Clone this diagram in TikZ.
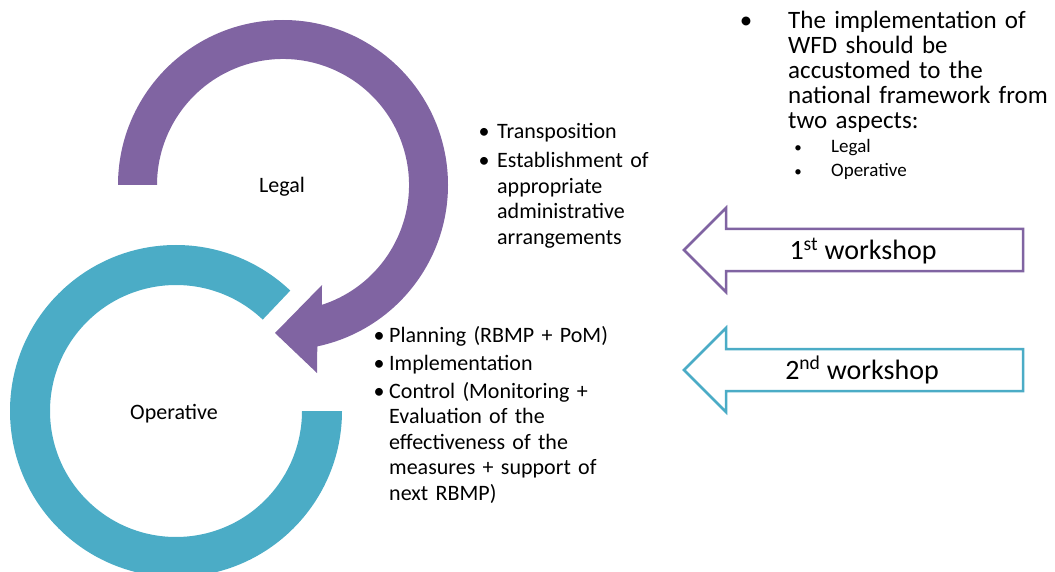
\documentclass[tikz,border=0pt]{standalone}
\usepackage{fontspec}
\setmainfont{Carlito}
\usepackage{tikz}
\definecolor{legalc}{HTML}{8064A2}
\definecolor{operc}{HTML}{4BACC6}

\begin{document}
\begin{tikzpicture}[x=1pt, y=-1pt,
    txt/.style = {anchor=base west, align=left, inner sep=0pt, text width=240pt, font=\fontsize{22}{25.5}\selectfont},
    bul/.style = {anchor=base, inner sep=0pt, font=\fontsize{22}{25.5}\selectfont},
    ring/.style = {anchor=base, inner sep=0pt, font=\fontsize{22}{25}\selectfont},
    ws/.style = {anchor=base, inner sep=0pt, font=\fontsize{28}{30}\selectfont},
    wsarrow/.style = {draw=#1, line width=2.5pt, fill=white, line join=miter}]

    \useasboundingbox (0,0) rectangle (1055,572);

    % Legal ring, ends in the arrow head
    \begin{scope}[shift={(283,185)}]
        \fill[legalc] (180:165) arc[start angle=180, end angle=438, radius=165]
            -- (34,188) -- (-8,148) -- (39,100)
            -- (72:126) arc[start angle=432, end angle=180, radius=126] -- cycle;
        \node[ring] (legal) at (-1,8) {Legal};
    \end{scope}

    % Operative ring
    \begin{scope}[shift={(176,411)}]
        \fill[operc] (0:166) arc[start angle=0, end angle=313.5, radius=166]
            -- (313.5:126) arc[start angle=313.5, end angle=0, radius=126] -- cycle;
        \node[ring] (oper) at (-2,8) {Operative};
    \end{scope}

    % Legal items
    \node[bul] (lb1) at (484,139) {\textbullet};
    \node[txt] (lt1) at (497,139) {Transposition};
    \node[bul] (lb2) at (484,168) {\textbullet};
    \node[txt] (lt2) at (497,168) {Establishment of\\appropriate\\administrative\\arrangements};

    % Operative items
    \node[bul] (ob1) at (379,342) {\textbullet};
    \node[txt] (ot1) at (389,342) {Planning (RBMP + PoM)};
    \node[bul] (ob2) at (379,370) {\textbullet};
    \node[txt] (ot2) at (389,370) {Implementation};
    \node[bul] (ob3) at (379,398) {\textbullet};
    \node[txt] (ot3) at (389,398) {Control (Monitoring +\\Evaluation of the\\effectiveness of the\\measures + support of\\next RBMP)};

    % Workshops
    \draw[wsarrow=legalc] (684,250) -- (726,208) -- (726,229) -- (1023,229) -- (1023,271)
        -- (726,271) -- (726,292) -- cycle;
    \node[ws] (ws1) at (863,260) {1\textsuperscript{st} workshop};

    \draw[wsarrow=operc] (684,370) -- (726,328) -- (726,349) -- (1023,349) -- (1023,391)
        -- (726,391) -- (726,412) -- cycle;
    \node[ws] (ws2) at (862,379) {2\textsuperscript{nd} workshop};

    % Aspects
    \node[bul, font=\fontsize{25}{25}\selectfont] (ab) at (746,29) {\textbullet};
    \node[txt, font=\fontsize{25}{25}\selectfont, text width=280pt] (at) at (788,29)
        {The implementation of\\WFD should be\\accustomed to the\\national framework from\\two aspects:};
    \node[bul, font=\fontsize{15}{15}\selectfont] (sb1) at (798,153) {\textbullet};
    \node[txt, font=\fontsize{19}{19}\selectfont] (st1) at (831,153) {Legal};
    \node[bul, font=\fontsize{15}{15}\selectfont] (sb2) at (798,177) {\textbullet};
    \node[txt, font=\fontsize{19}{19}\selectfont] (st2) at (831,177) {Operative};
\end{tikzpicture}
\end{document}
